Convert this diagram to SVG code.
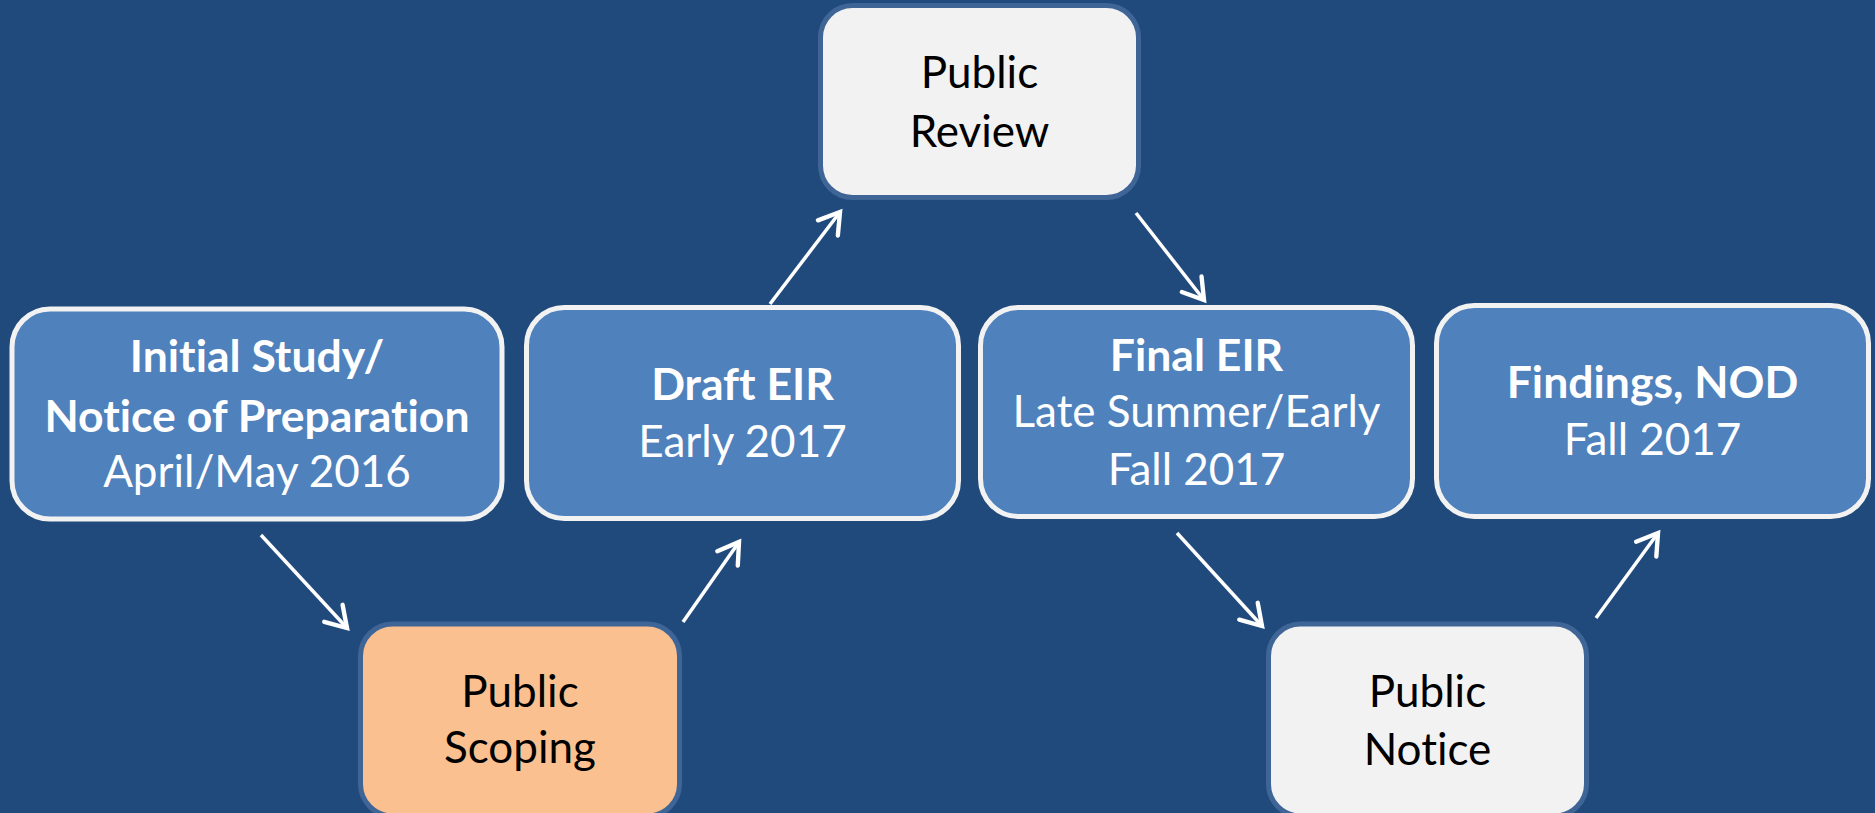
<svg xmlns="http://www.w3.org/2000/svg" width="1875" height="813" viewBox="0 0 1875 813">
<defs>
<style>
.bg{fill:#204a7c}
.blue{fill:#4f81bd;stroke:#f2f2f2;stroke-width:5}
.pub{stroke:#3f6597;stroke-width:5}
.t{font-family:Lato,"Liberation Sans",sans-serif;text-anchor:middle;font-variant-ligatures:none;font-feature-settings:"liga" 0}
.w{fill:#ffffff}
.k{fill:#000000}
.b{font-weight:bold;font-size:44.5px}
.n{font-size:44px}
.p{font-size:44px}
.conn line{stroke:#ffffff;stroke-width:3.5;fill:none;marker-end:url(#ah)}
</style>
<marker id="ah" markerUnits="userSpaceOnUse" markerWidth="30" markerHeight="30" refX="20" refY="12" orient="auto" viewBox="0 0 24 24">
<path d="M4,2 L20,12 L4,22" fill="none" stroke="#ffffff" stroke-width="3.5" stroke-linecap="round" stroke-linejoin="miter"/>
</marker>
</defs>
<rect class="bg" x="0" y="0" width="1875" height="813"/>
<g id="node-initial-study">
<rect class="blue" x="12" y="309" width="490" height="210" rx="38"/>
<text class="t w b" x="257" y="372">Initial Study/</text>
<text class="t w b" x="257" y="432">Notice of Preparation</text>
<text class="t w n" x="257" y="487">April/May 2016</text>
</g>
<g id="node-draft-eir">
<rect class="blue" x="526.5" y="307.5" width="432" height="211" rx="38"/>
<text class="t w b" x="742.5" y="400">Draft EIR</text>
<text class="t w n" x="742.5" y="457">Early 2017</text>
</g>
<g id="node-final-eir">
<rect class="blue" x="980.5" y="307.5" width="432" height="209" rx="38"/>
<text class="t w b" x="1196.5" y="371">Final EIR</text>
<text class="t w n" x="1196.5" y="427">Late Summer/Early</text>
<text class="t w n" x="1196.5" y="485">Fall 2017</text>
</g>
<g id="node-findings">
<rect class="blue" x="1436.5" y="305.5" width="432" height="211" rx="38"/>
<text class="t w b" x="1652.5" y="398">Findings, NOD</text>
<text class="t w n" x="1652.5" y="455">Fall 2017</text>
</g>
<g id="node-public-review">
<rect class="pub" fill="#f2f2f2" x="820.5" y="5.5" width="318" height="192" rx="32"/>
<text class="t k p" x="979.5" y="88">Public</text>
<text class="t k p" x="979.5" y="147">Review</text>
</g>
<g id="node-public-scoping">
<rect class="pub" fill="#fac090" x="360.5" y="624" width="319" height="192" rx="32"/>
<text class="t k p" x="520" y="707">Public</text>
<text class="t k p" x="520" y="763">Scoping</text>
</g>
<g id="node-public-notice">
<rect class="pub" fill="#f2f2f2" x="1268.5" y="624" width="318" height="192" rx="32"/>
<text class="t k p" x="1427.5" y="707">Public</text>
<text class="t k p" x="1427.5" y="765">Notice</text>
</g>
<g id="connectors" class="conn">
<line x1="261" y1="535" x2="347" y2="628"/>
<line x1="683" y1="622" x2="739" y2="542"/>
<line x1="770" y1="304" x2="840" y2="212"/>
<line x1="1136" y1="213" x2="1204" y2="300"/>
<line x1="1177" y1="533" x2="1262" y2="626"/>
<line x1="1596" y1="618" x2="1658" y2="533"/>
</g>
</svg>
